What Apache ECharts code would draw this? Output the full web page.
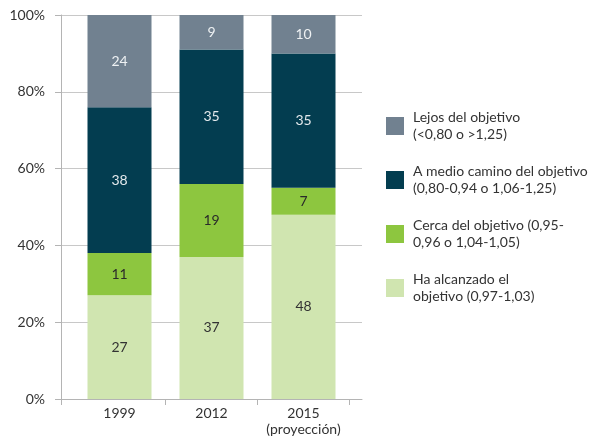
<!DOCTYPE html>
<html>
<head>
<meta charset="utf-8">
<script src="https://cdn.jsdelivr.net/npm/echarts@6/dist/echarts.min.js"></script>
<style>
  html, body { margin: 0; padding: 0; background: #fff; }
  #chart { width: 589px; height: 447px; }
</style>
</head>
<body>
<div id="chart"></div>
<script>
// Categories (years) along the x axis
const years = ['1999', '2012', '2015\n(proyección)'];

// Share of countries in each group, percent (stacked bottom to top)
const alcanzado = [27, 37, 48];
const cerca     = [11, 19, 7];
const medio     = [38, 35, 35];
const lejos     = [24, 9, 10];

// Series names as shown in the legend
const nameAlcanzado = 'Ha alcanzado el\nobjetivo (0,97-1,03)';
const nameCerca     = 'Cerca del objetivo (0,95-\n0,96 o 1,04-1,05)';
const nameMedio     = 'A medio camino del objetivo\n(0,80-0,94 o 1,06-1,25)';
const nameLejos     = 'Lejos del objetivo\n(<0,80 o >1,25)';

// Y axis ticks
const yMin = 0, yMax = 100, yStep = 20;

const FONT = 'Lato';
const chart = echarts.init(document.getElementById('chart'), null, { renderer: 'canvas' });

function barSeries(name, data, color, labelColor) {
  return {
    name: name,
    type: 'bar',
    xAxisIndex: 1,
    yAxisIndex: 1,
    stack: 'total',
    barWidth: 64,
    data: data,
    itemStyle: { color: color },
    label: {
      show: true,
      position: 'inside',
      color: labelColor,
      fontFamily: FONT,
      fontSize: 14
    }
  };
}

chart.setOption({
  animation: false,
  textStyle: { fontFamily: FONT },
  grid: [
    // frame: y axis, gridlines and base line
    { left: 61, top: 15, width: 301, height: 384 },
    // bars
    { left: 73.5, top: 15, width: 276, height: 384 }
  ],
  xAxis: [
    {
      gridIndex: 0,
      type: 'category',
      boundaryGap: false,
      data: ['', ''],
      axisLine: { show: true, lineStyle: { color: '#b4b4b4', width: 1 } },
      axisTick: { show: true, length: 6, interval: function (i) { return i === 0; }, lineStyle: { color: '#b4b4b4' } },
      axisLabel: { show: false },
      splitLine: { show: false }
    },
    {
      gridIndex: 1,
      type: 'category',
      data: years,
      axisLine: { show: false },
      axisTick: { show: true, length: 6, interval: function (i) { return i > 0; }, lineStyle: { color: '#b4b4b4' } },
      axisLabel: {
        interval: 0,
        color: '#333',
        fontFamily: FONT,
        fontSize: 14,
        lineHeight: 16,
        margin: 6
      }
    }
  ],
  yAxis: [
    {
      gridIndex: 0,
      type: 'value',
      min: yMin,
      max: yMax,
      interval: yStep,
      axisLine: { show: true, lineStyle: { color: '#b4b4b4', width: 1 } },
      axisTick: { show: true, length: 6, lineStyle: { color: '#b4b4b4' } },
      axisLabel: {
        formatter: '{value}%',
        color: '#333',
        fontFamily: FONT,
        fontSize: 14,
        margin: 16
      },
      splitLine: { show: true, lineStyle: { color: '#c8c8c8', width: 1 } }
    },
    {
      gridIndex: 1,
      type: 'value',
      min: yMin,
      max: yMax,
      interval: yStep,
      show: false
    }
  ],
  legend: {
    orient: 'vertical',
    left: 381,
    top: 104,
    itemWidth: 18,
    itemHeight: 18,
    itemGap: 20,
    icon: 'rect',
    data: [nameLejos, nameMedio, nameCerca, nameAlcanzado],
    textStyle: {
      color: '#333',
      fontFamily: FONT,
      fontSize: 14,
      lineHeight: 17,
      padding: [0, 0, 0, 4]
    },
    selectedMode: false
  },
  series: [
    barSeries(nameAlcanzado, alcanzado, '#d0e5b0', '#333'),
    barSeries(nameCerca, cerca, '#8dc63f', '#2a2a2a'),
    barSeries(nameMedio, medio, '#033d50', '#e3e9ec'),
    barSeries(nameLejos, lejos, '#718190', '#eef1f3')
  ]
});
</script>
</body>
</html>
